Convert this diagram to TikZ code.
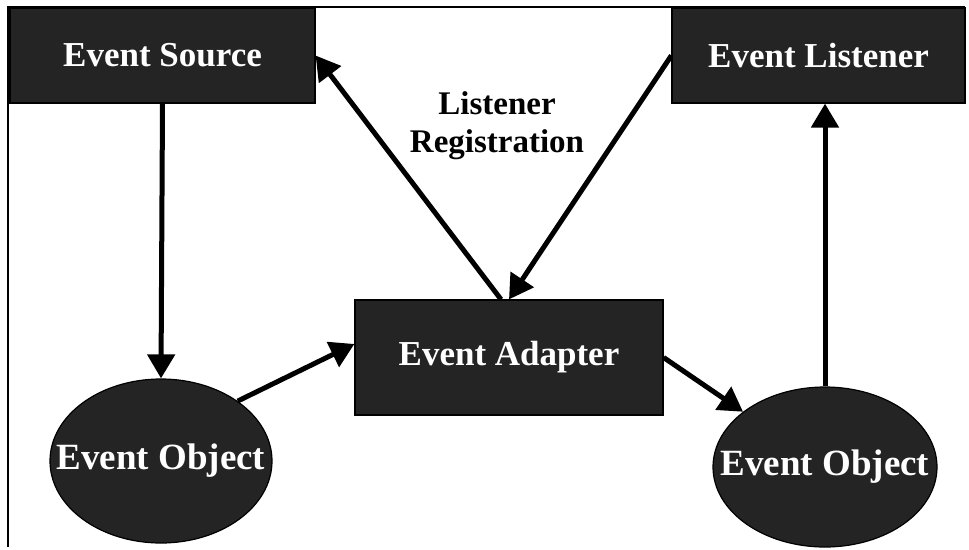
\documentclass[tikz,border=0pt]{standalone}
\usepackage{fontspec}
\setmainfont{Liberation Serif}
\usetikzlibrary{arrows.meta,shapes.geometric}
\newcommand{\zw}[1]{\makebox[0pt]{#1}}
\begin{document}
\begin{tikzpicture}[x=1pt,y=-1pt,
  shade/.style={draw=black,line width=1.2pt,fill=black!86,text=white,inner sep=0pt},
  box/.style={shade,rectangle,font=\bfseries\fontsize{35}{37}\selectfont},
  oval/.style={shade,ellipse,font=\bfseries\fontsize{37}{39}\selectfont,minimum width=222pt,minimum height=164pt},
  conn/.style={line width=5pt,-{Triangle[length=24pt,width=27pt]}},
  lbl/.style={font=\bfseries\fontsize{33}{38}\selectfont,align=center}]
\useasboundingbox (0,0) rectangle (969,549);
\draw[line width=1.5pt] (8,547) -- (8,7) -- (965,7);
\node[box,minimum width=305pt,minimum height=95pt] (src) at (162.5,55.5) {\zw{Event Source}};
\node[box,minimum width=293pt,minimum height=95pt] (lis) at (818.5,55.5) {\zw{Event Listener}};
\node[box,minimum width=308pt,minimum height=115pt] (ada) at (509,357.5) {\zw{Event Adapter}};
\node[oval] (eo1) at (161,461) {\zw{Event Object}};
\node[oval,minimum width=224pt,minimum height=160pt] (eo2) at (825,467) {\zw{Event Object}};
\node[lbl] (reg) at (497,126) {Listener\\Registration};
\draw[conn] (src.south) -- (eo1.north);
\draw[conn] (eo1.38) -- (ada.175);
\draw[conn] ([xshift=-8pt]ada.north) -- (src.east);
\draw[conn] (lis.west) -- (ada.north);
\draw[conn] (ada.east) -- (eo2.146);
\draw[conn] (eo2.north) -- (eo2.north |- lis.south);
\end{tikzpicture}
\end{document}
